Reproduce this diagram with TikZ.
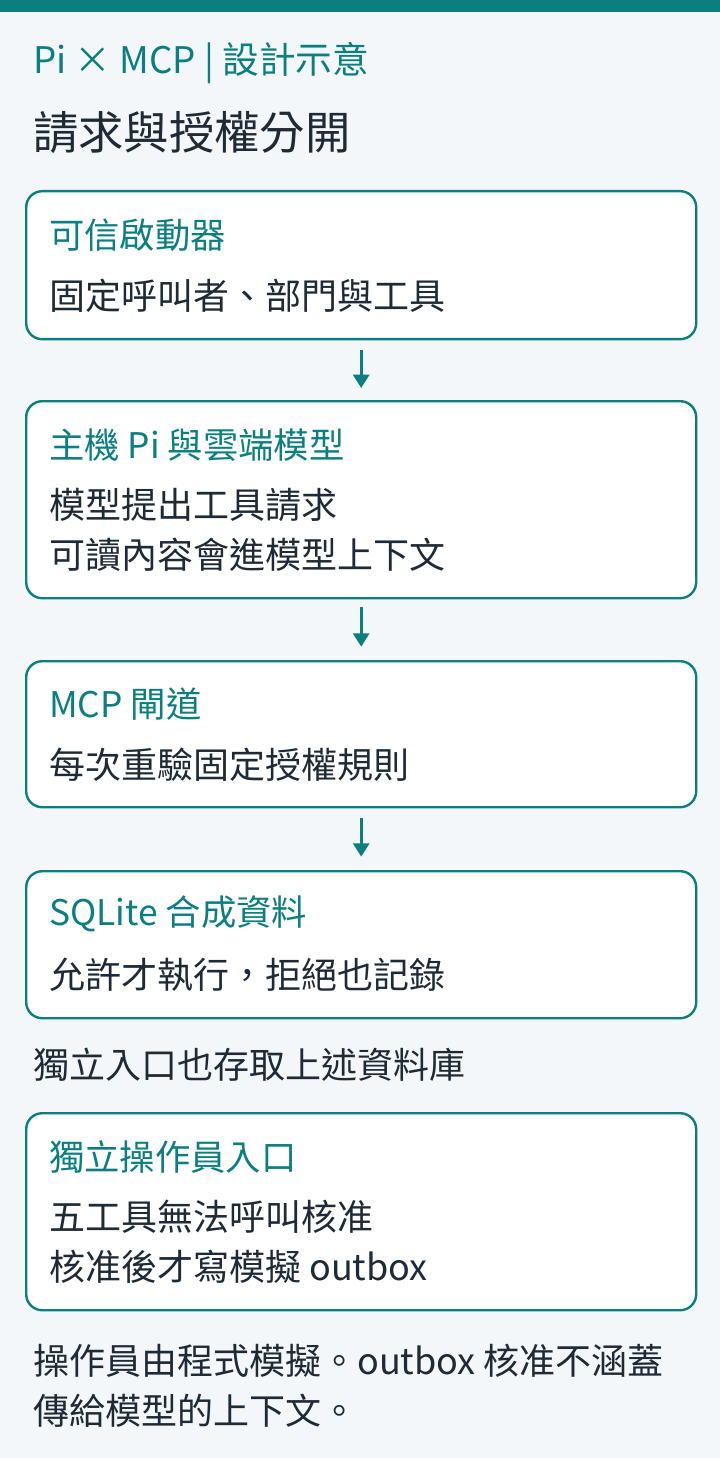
\documentclass[tikz,border=0pt]{standalone}
\usepackage{fontspec}
\setmainfont{Noto Sans CJK TC}
\usetikzlibrary{arrows.meta,positioning}
\definecolor{teal0}{HTML}{0B7F7F}
\definecolor{ink}{HTML}{1E2B37}
\definecolor{bg}{HTML}{F3F7FA}
\begin{document}
\begin{tikzpicture}[x=0.75pt,y=-0.75pt,
  box/.style={draw=teal0,line width=1.8pt,rounded corners=12pt,fill=white,
    minimum width=502.5pt,anchor=north west,inner sep=0pt},
  head/.style={anchor=west,inner sep=0pt,text=teal0,font=\fontsize{26.5}{30}\selectfont},
  body/.style={anchor=west,inner sep=0pt,text=ink,align=left,font=\fontsize{27}{37.5}\selectfont},
  flow/.style={-{Triangle[length=10pt,width=12pt]},draw=teal0,line width=2.2pt}]
  \fill[bg] (0,0) rectangle (720,1458);
  \fill[teal0] (0,0) rectangle (720,12);
  \node[anchor=west,inner sep=0pt,text=teal0,font=\fontsize{27.5}{30}\selectfont] (title) at (33,63) {Pi × MCP | 設計示意};
  \node[anchor=west,inner sep=0pt,text=ink,font=\fontsize{34}{40}\selectfont] (sub) at (33,133) {請求與授權分開};
  % boxes
  \node[box,minimum height=111pt] (b1) at (25,190) {};
  \node[box,minimum height=147.75pt] (b2) at (25,400) {};
  \node[box,minimum height=109.5pt] (b3) at (25,660) {};
  \node[box,minimum height=110.25pt] (b4) at (25,870) {};
  \node[box,minimum height=147.75pt] (b5) at (25,1112) {};
  % texts
  \node[head] (h1) at (49,235) {可信啟動器};
  \node[body] (t1) at (49,296) {固定呼叫者、部門與工具};
  \node[head] (h2) at (49,445) {主機 Pi 與雲端模型};
  \node[body] (t2) at (49,530) {模型提出工具請求\\可讀內容會進模型上下文};
  \node[head] (h3) at (49,704) {MCP 閘道};
  \node[body] (t3) at (49,765) {每次重驗固定授權規則};
  \node[head] (h4) at (49,914) {SQLite 合成資料};
  \node[body] (t4) at (49,975) {允許才執行，拒絕也記錄};
  \node[body] (n1) at (33,1065) {獨立入口也存取上述資料庫};
  \node[head] (h5) at (49,1157) {獨立操作員入口};
  \node[body] (t5) at (49,1242) {五工具無法呼叫核准\\核准後才寫模擬 outbox};
  \node[body] (n2) at (33,1386) {操作員由程式模擬。outbox 核准不涵蓋\\傳給模型的上下文。};
  % arrows
  \draw[flow] ([yshift=-7.5pt]b1.south) -- ([yshift=9pt]b2.north);
  \draw[flow] ([yshift=-6pt]b2.south) -- ([yshift=10pt]b3.north);
  \draw[flow] ([yshift=-7.5pt]b3.south) -- ([yshift=10pt]b4.north);
\end{tikzpicture}
\end{document}
